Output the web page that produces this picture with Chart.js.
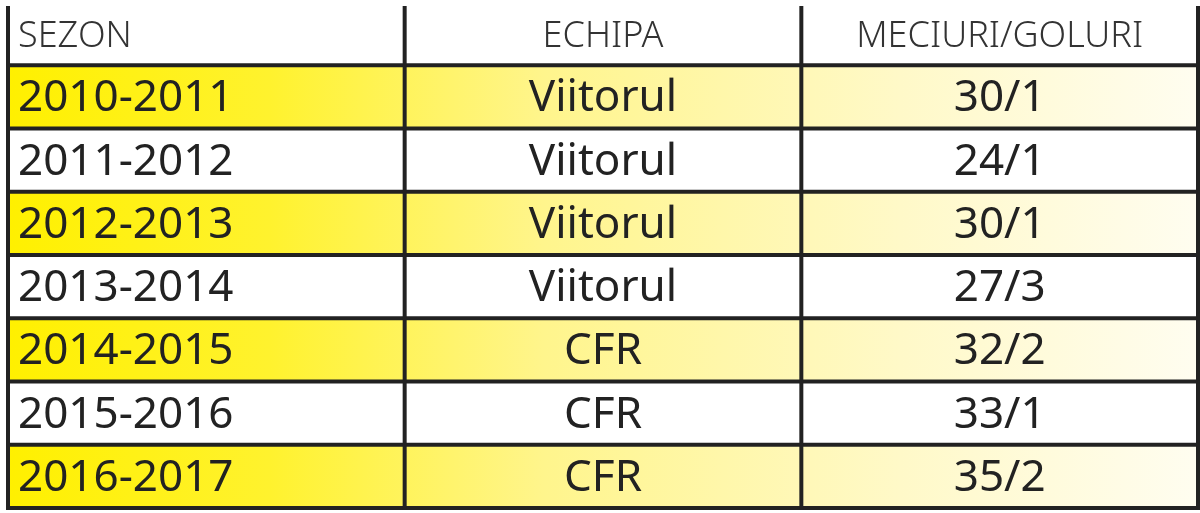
<!DOCTYPE html>
<html>
<head>
<meta charset="utf-8">
<script src="https://cdn.jsdelivr.net/npm/chart.js@4"></script>
<style>
  html, body { margin: 0; padding: 0; background: #fff; }
  #wrap { width: 1200px; height: 513px; }
</style>
</head>
<body>
<div id="wrap"><canvas id="tabel"></canvas></div>
<script>
// date tabel
const antet = ["SEZON", "ECHIPA", "MECIURI/GOLURI"];
const sezoane = ["2010-2011", "2011-2012", "2012-2013", "2013-2014", "2014-2015", "2015-2016", "2016-2017"];
const echipe = ["Viitorul", "Viitorul", "Viitorul", "Viitorul", "CFR", "CFR", "CFR"];
const meciuri = [30, 24, 30, 27, 32, 33, 35];
const goluri = [1, 1, 1, 3, 2, 1, 2];
const evidentiat = [true, false, true, false, true, false, true];

const FONT = '"Liberation Sans Narrow", "Noto Sans", sans-serif';
const randuri = ["antet", ...sezoane];
const benzi = [null, ...evidentiat.map((e) => (e ? [0, 3] : null))];

function gradientGalben(ctx) {
  const area = ctx.chart.chartArea;
  if (!area) return "#fff200";
  const g = ctx.chart.ctx.createLinearGradient(area.left, 0, area.right, 0);
  g.addColorStop(0, "#fff000");
  g.addColorStop(0.22, "#fff22e");
  g.addColorStop(0.45, "#fff58c");
  g.addColorStop(0.75, "#fff9c8");
  g.addColorStop(1, "#fffdf0");
  return g;
}

// deseneaza liniile si textul tabelului peste benzi
const tabelPlugin = {
  id: "tabel",
  afterDatasetsDraw(chart) {
    const { ctx, chartArea, scales } = chart;
    const x = scales.x, y = scales.y;
    const h = (y.getPixelForValue(1) - y.getPixelForValue(0));
    const margine = (i) => y.getPixelForValue(i) - h / 2;
    ctx.save();
    ctx.strokeStyle = "#222";
    ctx.lineWidth = 4;
    // linii orizontale
    for (let i = 1; i <= randuri.length; i++) {
      const py = margine(i);
      ctx.beginPath();
      ctx.moveTo(x.getPixelForValue(0), py);
      ctx.lineTo(x.getPixelForValue(3), py);
      ctx.stroke();
    }
    // linii verticale
    for (let c = 0; c <= 3; c++) {
      const px = x.getPixelForValue(c);
      ctx.beginPath();
      ctx.moveTo(px, chartArea.top + 4);
      ctx.lineTo(px, margine(randuri.length) + 2);
      ctx.stroke();
    }
    ctx.textBaseline = "middle";
    // antet
    ctx.fillStyle = "#333";
    ctx.font = "300 36px " + FONT;
    const yh = y.getPixelForValue(0) + 3;
    ctx.textAlign = "left";
    ctx.fillText(antet[0], x.getPixelForValue(0) + 10, yh);
    ctx.textAlign = "center";
    ctx.fillText(antet[1], x.getPixelForValue(1.5), yh);
    ctx.fillText(antet[2], x.getPixelForValue(2.5), yh);
    // randuri
    ctx.fillStyle = "#222";
    ctx.font = "44px " + FONT;
    sezoane.forEach((s, i) => {
      const py = y.getPixelForValue(i + 1) + 2;
      ctx.textAlign = "left";
      ctx.fillText(s, x.getPixelForValue(0) + 10, py);
      ctx.textAlign = "center";
      ctx.fillText(echipe[i], x.getPixelForValue(1.5), py);
      ctx.fillText(meciuri[i] + "/" + goluri[i], x.getPixelForValue(2.5), py);
    });
    ctx.restore();
  },
};

new Chart(document.getElementById("tabel"), {
  type: "bar",
  data: {
    labels: randuri,
    datasets: [
      {
        data: benzi,
        backgroundColor: gradientGalben,
        borderWidth: 0,
        barPercentage: 1,
        categoryPercentage: 1,
      },
    ],
  },
  options: {
    indexAxis: "y",
    responsive: true,
    maintainAspectRatio: false,
    animation: false,
    layout: { padding: { left: 8, right: 2, top: 2, bottom: 5 } },
    plugins: { legend: { display: false }, tooltip: { enabled: false } },
    scales: {
      x: { type: "linear", min: 0, max: 3, display: false },
      y: { type: "category", offset: true, display: false },
    },
  },
  plugins: [tabelPlugin],
});
</script>
</body>
</html>
